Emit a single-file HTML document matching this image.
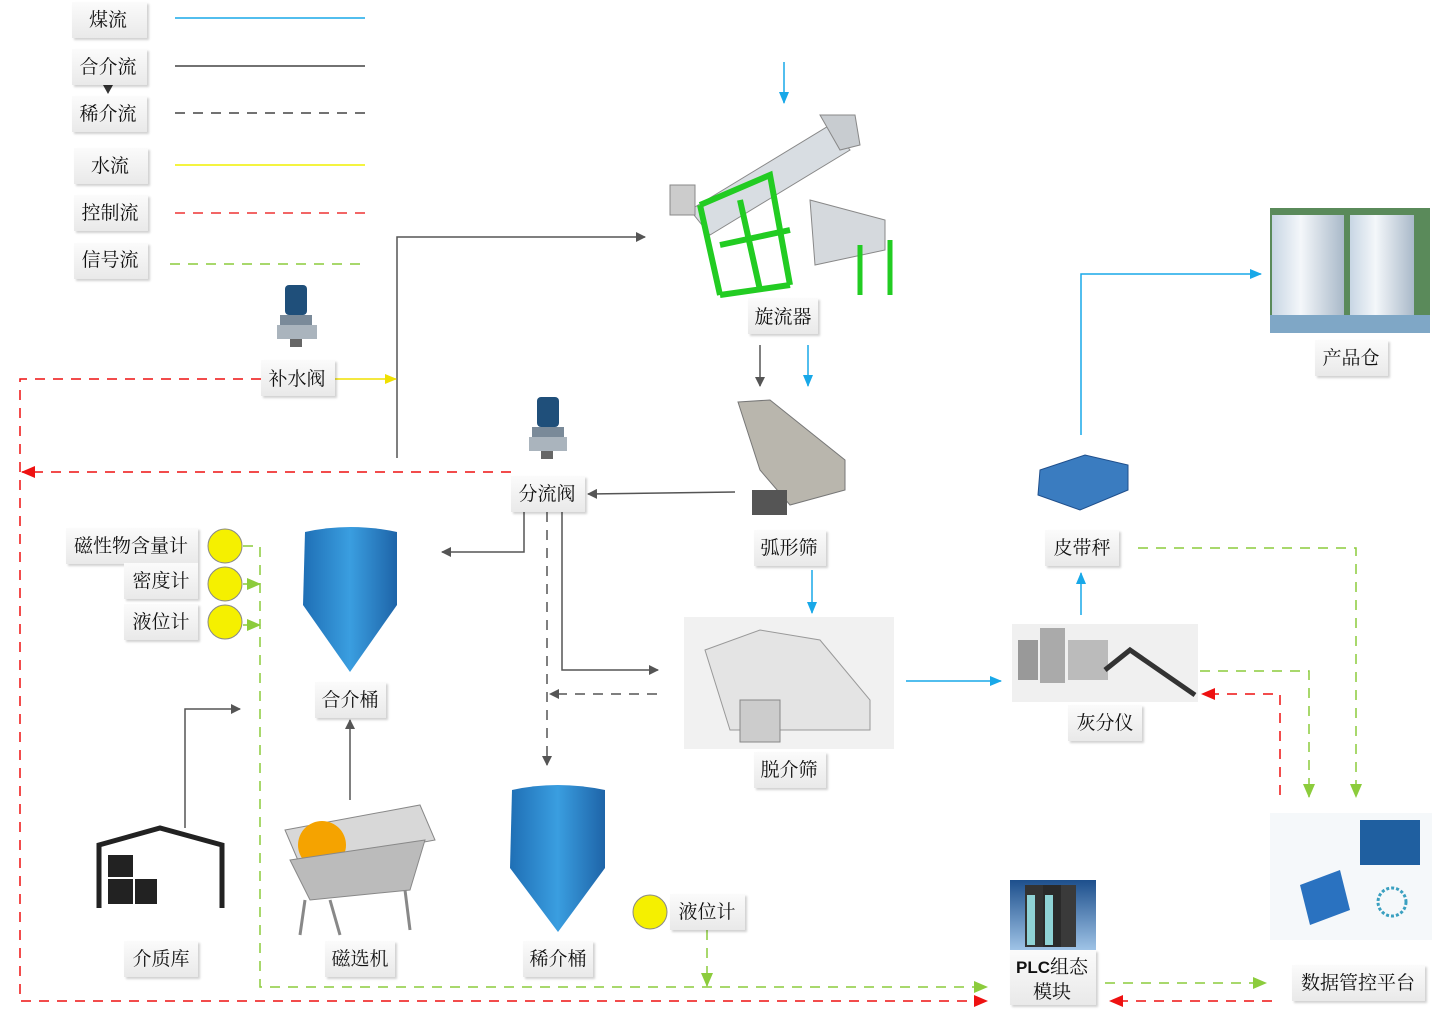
<!DOCTYPE html>
<html><head><meta charset="utf-8"><style>
html,body{margin:0;padding:0;background:#fff;}
svg{display:block;}
.t{font-family:"Liberation Serif","Noto Serif CJK SC",serif;font-size:19px;fill:#111;}
</style></head><body>
<svg width="1435" height="1022" viewBox="0 0 1435 1022" xmlns="http://www.w3.org/2000/svg">
<defs>
<linearGradient id="lb" x1="0" y1="0" x2="0" y2="1"><stop offset="0" stop-color="#fbfbfb"/><stop offset="1" stop-color="#e9e9e9"/></linearGradient>
<linearGradient id="blu" x1="0" y1="0" x2="1" y2="0"><stop offset="0" stop-color="#1f6fb5"/><stop offset=".5" stop-color="#3a9ee0"/><stop offset="1" stop-color="#1e64a8"/></linearGradient>
<linearGradient id="silo" x1="0" y1="0" x2="1" y2="0"><stop offset="0" stop-color="#c8d6e4"/><stop offset=".4" stop-color="#f4f7fa"/><stop offset="1" stop-color="#a9b9c9"/></linearGradient>
<linearGradient id="plc" x1="0" y1="0" x2="0" y2="1"><stop offset="0" stop-color="#1d4f8c"/><stop offset="1" stop-color="#9fc3e6"/></linearGradient>
<marker id="aK" markerWidth="10" markerHeight="10" refX="9" refY="5" orient="auto" markerUnits="userSpaceOnUse"><path d="M0,0 L10,5 L0,10z" fill="#555"/></marker>
<marker id="aB" markerWidth="12" markerHeight="10" refX="11" refY="5" orient="auto" markerUnits="userSpaceOnUse"><path d="M0,0 L12,5 L0,10z" fill="#18a8e8"/></marker>
<marker id="aY" markerWidth="12" markerHeight="10" refX="11" refY="5" orient="auto" markerUnits="userSpaceOnUse"><path d="M0,0 L12,5 L0,10z" fill="#f0e000"/></marker>
<marker id="aR" markerWidth="14" markerHeight="12" refX="13" refY="6" orient="auto" markerUnits="userSpaceOnUse"><path d="M0,0 L14,6 L0,12z" fill="#ee1111"/></marker>
<marker id="aG" markerWidth="14" markerHeight="12" refX="13" refY="6" orient="auto" markerUnits="userSpaceOnUse"><path d="M0,0 L14,6 L0,12z" fill="#8ccc3c"/></marker>
<filter id="sh"><feDropShadow dx="2" dy="2" stdDeviation="1" flood-color="#000" flood-opacity=".18"/></filter>
</defs>

<!-- legend lines -->
<line x1="175" y1="18" x2="365" y2="18" stroke="#18a8e8" stroke-width="1.5"/>
<line x1="175" y1="66" x2="365" y2="66" stroke="#444" stroke-width="1.5"/>
<line x1="175" y1="113" x2="365" y2="113" stroke="#444" stroke-width="1.5" stroke-dasharray="10,8"/>
<line x1="175" y1="165" x2="365" y2="165" stroke="#f0f000" stroke-width="1.5"/>
<line x1="175" y1="213" x2="365" y2="213" stroke="#ee3333" stroke-width="1.5" stroke-dasharray="10,8"/>
<line x1="170" y1="264" x2="360" y2="264" stroke="#8ccc3c" stroke-width="1.5" stroke-dasharray="10,8"/>
<path d="M103,85 L113,85 L108,94z" fill="#333"/>

<!-- connectors dark -->
<polyline points="397,458 397,237 645,237" fill="none" stroke="#555" stroke-width="1.5" marker-end="url(#aK)"/>
<line x1="760" y1="345" x2="760" y2="386" stroke="#555" stroke-width="1.5" marker-end="url(#aK)"/>
<line x1="735" y1="492" x2="588" y2="494" stroke="#555" stroke-width="1.5" marker-end="url(#aK)"/>
<polyline points="524,512 524,552 442,552" fill="none" stroke="#555" stroke-width="1.5" marker-end="url(#aK)"/>
<polyline points="562,512 562,670 658,670" fill="none" stroke="#555" stroke-width="1.5" marker-end="url(#aK)"/>
<line x1="547" y1="512" x2="547" y2="765" stroke="#555" stroke-width="1.5" stroke-dasharray="10,8" marker-end="url(#aK)"/>
<line x1="657" y1="694" x2="550" y2="694" stroke="#555" stroke-width="1.5" stroke-dasharray="10,8" marker-end="url(#aK)"/>
<line x1="350" y1="800" x2="350" y2="720" stroke="#555" stroke-width="1.5" marker-end="url(#aK)"/>
<polyline points="185,828 185,709 240,709" fill="none" stroke="#555" stroke-width="1.5" marker-end="url(#aK)"/>

<!-- blue -->
<line x1="784" y1="62" x2="784" y2="103" stroke="#18a8e8" stroke-width="1.5" marker-end="url(#aB)"/>
<line x1="808" y1="345" x2="808" y2="386" stroke="#18a8e8" stroke-width="1.5" marker-end="url(#aB)"/>
<line x1="812" y1="570" x2="812" y2="613" stroke="#18a8e8" stroke-width="1.5" marker-end="url(#aB)"/>
<line x1="906" y1="681" x2="1001" y2="681" stroke="#18a8e8" stroke-width="1.5" marker-end="url(#aB)"/>
<line x1="1081" y1="615" x2="1081" y2="573" stroke="#18a8e8" stroke-width="1.5" marker-end="url(#aB)"/>
<polyline points="1081,435 1081,274 1261,274" fill="none" stroke="#18a8e8" stroke-width="1.5" marker-end="url(#aB)"/>

<!-- yellow -->
<line x1="335" y1="379" x2="396" y2="379" stroke="#f0e000" stroke-width="1.5" marker-end="url(#aY)"/>

<!-- red -->
<polyline points="261,379 20,379 20,1001 987,1001" fill="none" stroke="#ee1111" stroke-width="1.5" stroke-dasharray="10,8" marker-end="url(#aR)"/>
<line x1="511" y1="472" x2="22" y2="472" stroke="#ee1111" stroke-width="1.5" stroke-dasharray="10,8" marker-end="url(#aR)"/>
<polyline points="1280,795 1280,694 1202,694" fill="none" stroke="#ee1111" stroke-width="1.5" stroke-dasharray="10,8" marker-end="url(#aR)"/>
<line x1="1272" y1="1001" x2="1110" y2="1001" stroke="#ee1111" stroke-width="1.5" stroke-dasharray="10,8" marker-end="url(#aR)"/>

<!-- green -->
<polyline points="243,546 260,546 260,987 987,987" fill="none" stroke="#8ccc3c" stroke-width="1.5" stroke-dasharray="10,8" marker-end="url(#aG)"/>
<line x1="243" y1="584" x2="260" y2="584" stroke="#8ccc3c" stroke-width="1.5" marker-end="url(#aG)"/>
<line x1="243" y1="625" x2="260" y2="625" stroke="#8ccc3c" stroke-width="1.5" marker-end="url(#aG)"/>
<line x1="707" y1="930" x2="707" y2="986" stroke="#8ccc3c" stroke-width="1.5" stroke-dasharray="10,8" marker-end="url(#aG)"/>
<polyline points="1138,548 1356,548 1356,797" fill="none" stroke="#8ccc3c" stroke-width="1.5" stroke-dasharray="10,8" marker-end="url(#aG)"/>
<polyline points="1200,671 1309,671 1309,797" fill="none" stroke="#8ccc3c" stroke-width="1.5" stroke-dasharray="10,8" marker-end="url(#aG)"/>
<line x1="1105" y1="983" x2="1266" y2="983" stroke="#8ccc3c" stroke-width="1.5" stroke-dasharray="10,8" marker-end="url(#aG)"/>

<!-- cyclone -->
<g>
<path d="M690,210 L830,125 L850,150 L710,235z" fill="#d8dde2" stroke="#888"/>
<path d="M820,115 L855,115 L860,145 L840,150z" fill="#c8ccd0" stroke="#888"/>
<rect x="670" y="185" width="25" height="30" fill="#ccc" stroke="#888"/>
<path d="M810,200 L885,220 L885,250 L815,265z" fill="#d5d9dd" stroke="#888"/>
<path d="M700,205 L720,295 M700,205 L770,175 L790,285 M740,200 L760,290 M720,245 L790,230 M720,295 L790,285" fill="none" stroke="#22cc22" stroke-width="6"/>
<path d="M860,245 L860,295 M890,240 L890,295" stroke="#22cc22" stroke-width="5"/>
</g>
<!-- pumps -->
<g><rect x="285" y="285" width="22" height="30" rx="4" fill="#1f4f7a"/><rect x="280" y="315" width="32" height="10" fill="#7a8a99"/><rect x="277" y="325" width="40" height="14" fill="#aab4bd"/><rect x="290" y="339" width="12" height="8" fill="#666"/></g>
<g><rect x="537" y="397" width="22" height="30" rx="4" fill="#1f4f7a"/><rect x="532" y="427" width="32" height="10" fill="#7a8a99"/><rect x="529" y="437" width="38" height="14" fill="#aab4bd"/><rect x="541" y="451" width="12" height="8" fill="#666"/></g>
<!-- 弧形筛 -->
<path d="M738,402 L770,400 L845,460 L845,490 L790,505 L760,470z" fill="#b9b6ad" stroke="#777"/>
<rect x="752" y="490" width="35" height="25" fill="#555"/>
<!-- 脱介筛 -->
<rect x="684" y="617" width="210" height="132" fill="#f1f1f1"/>
<path d="M705,650 L760,630 L820,640 L870,700 L870,730 L730,730z" fill="#e4e4e4" stroke="#999"/>
<rect x="740" y="700" width="40" height="42" fill="#ccc" stroke="#888"/>
<!-- 灰分仪 -->
<rect x="1012" y="624" width="186" height="78" fill="#f0f0f0"/>
<rect x="1018" y="640" width="20" height="40" fill="#999"/><rect x="1040" y="628" width="25" height="55" fill="#aaa"/><rect x="1068" y="640" width="40" height="40" fill="#bbb"/>
<path d="M1105,670 L1130,650 L1195,695" stroke="#333" stroke-width="5" fill="none"/>
<!-- 皮带秤 -->
<path d="M1040,470 L1085,455 L1128,465 L1128,490 L1080,510 L1038,495z" fill="#3a7cc0" stroke="#1f4f8c"/>
<!-- 产品仓 -->
<rect x="1270" y="208" width="160" height="125" fill="#5a8a5a"/>
<rect x="1272" y="215" width="72" height="110" fill="url(#silo)"/><rect x="1350" y="215" width="64" height="110" fill="url(#silo)"/>
<rect x="1270" y="315" width="160" height="18" fill="#7fa7c6"/>
<!-- data platform -->
<rect x="1270" y="813" width="162" height="127" fill="#f5f8fa"/>
<rect x="1360" y="820" width="60" height="45" fill="#1f5fa0"/>
<path d="M1300,885 L1340,870 L1350,910 L1310,925z" fill="#2a72c0"/>
<circle cx="1392" cy="902" r="14" fill="none" stroke="#3aa0c0" stroke-width="3" stroke-dasharray="3,2"/>
<!-- PLC -->
<rect x="1010" y="880" width="86" height="70" fill="url(#plc)"/>
<rect x="1025" y="885" width="18" height="62" fill="#333"/><rect x="1043" y="885" width="18" height="62" fill="#2a2a2a"/><rect x="1061" y="885" width="15" height="62" fill="#3a3a3a"/>
<rect x="1027" y="895" width="8" height="50" fill="#8fd3d6"/><rect x="1045" y="895" width="8" height="50" fill="#8fd3d6"/>
<!-- tanks -->
<path d="M305,532 Q350,522 397,532 L397,605 L350,672 L303,605z" fill="url(#blu)"/>
<path d="M512,790 Q557,780 605,790 L605,868 L558,932 L510,868z" fill="url(#blu)"/>
<!-- 磁选机 -->
<path d="M285,830 L420,805 L435,840 L300,865z" fill="#d8d8d8" stroke="#888"/>
<circle cx="322" cy="845" r="24" fill="#f5a300"/>
<path d="M290,860 L425,840 L410,890 L310,900z" fill="#bbb" stroke="#888"/>
<path d="M305,900 L300,935 M330,900 L340,935 M405,890 L410,930" stroke="#888" stroke-width="3"/>
<!-- 介质库 -->
<path d="M99,908 L99,845 L160,828 L222,845 L222,908" fill="none" stroke="#222" stroke-width="5"/>
<rect x="108" y="855" width="25" height="22" fill="#222"/><rect x="108" y="879" width="25" height="25" fill="#222"/><rect x="135" y="879" width="22" height="25" fill="#222"/>
<!-- circles -->
<g fill="#f5f000" stroke="#888"><circle cx="225" cy="546" r="17"/><circle cx="225" cy="584" r="17"/><circle cx="225" cy="622" r="17"/><circle cx="650" cy="912" r="17"/></g>

<!-- labels -->
<g filter="url(#sh)" fill="url(#lb)">
<rect x="72" y="2" width="75" height="36"/><rect x="72" y="49" width="75" height="36"/><rect x="72" y="96" width="75" height="36"/>
<rect x="74" y="148" width="74" height="36"/><rect x="74" y="195" width="74" height="36"/><rect x="74" y="243" width="74" height="36"/>
<rect x="748" y="298" width="70" height="36"/><rect x="261" y="360" width="74" height="36"/><rect x="511" y="476" width="74" height="36"/>
<rect x="754" y="530" width="72" height="36"/><rect x="754" y="752" width="72" height="36"/><rect x="1068" y="705" width="74" height="36"/>
<rect x="1045" y="530" width="74" height="36"/><rect x="1315" y="340" width="73" height="36"/><rect x="1292" y="965" width="133" height="36"/>
<rect x="1010" y="950" width="86" height="55"/><rect x="66" y="528" width="132" height="36"/><rect x="124" y="563" width="74" height="36"/>
<rect x="124" y="604" width="74" height="36"/><rect x="315" y="682" width="71" height="36"/><rect x="325" y="941" width="70" height="36"/>
<rect x="124" y="941" width="74" height="36"/><rect x="523" y="941" width="70" height="36"/><rect x="670" y="894" width="75" height="36"/>
</g>
<g class="t" text-anchor="middle">
<text x="108" y="26">煤流</text><text x="108" y="73">合介流</text><text x="108" y="120">稀介流</text>
<text x="110" y="172">水流</text><text x="110" y="219">控制流</text><text x="110" y="266">信号流</text>
<text x="783" y="323">旋流器</text><text x="297" y="385">补水阀</text><text x="547" y="500">分流阀</text>
<text x="789" y="554">弧形筛</text><text x="789" y="776">脱介筛</text><text x="1105" y="729">灰分仪</text>
<text x="1082" y="554">皮带秤</text><text x="1351" y="364">产品仓</text><text x="1358" y="989">数据管控平台</text>
<text x="131" y="552">磁性物含量计</text><text x="161" y="587">密度计</text><text x="161" y="628">液位计</text>
<text x="350" y="706">合介桶</text><text x="360" y="965">磁选机</text><text x="161" y="965">介质库</text>
<text x="558" y="965">稀介桶</text><text x="707" y="918">液位计</text>
<text x="1052" y="973"><tspan font-family="Liberation Sans,sans-serif" font-weight="bold" font-size="17">PLC</tspan>组态</text>
<text x="1052" y="998">模块</text>
</g>
</svg>
</body></html>
